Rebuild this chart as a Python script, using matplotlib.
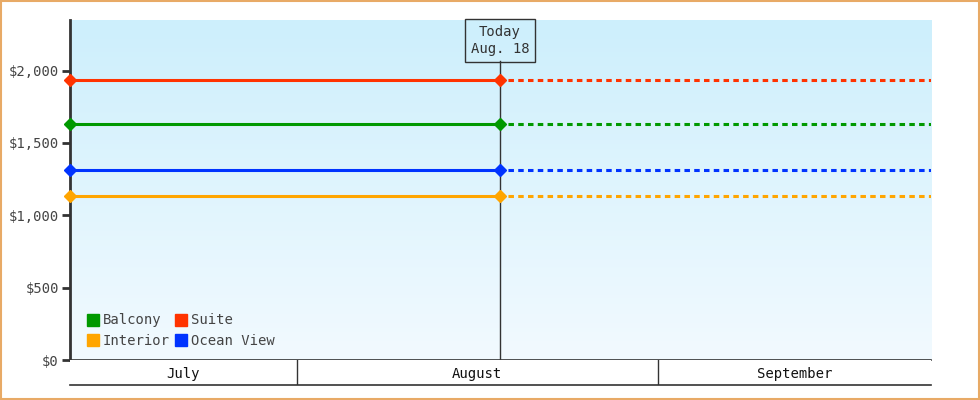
import numpy as np
import matplotlib.pyplot as plt
import matplotlib.dates as mdates
from matplotlib.ticker import FuncFormatter
from datetime import datetime

series = ["Balcony", "Suite", "Interior", "Ocean View"]
prices = [1630, 1934, 1133, 1313]
colors = ["#009900", "#ff3300", "#ffa500", "#0033ff"]

start_date = datetime(2024, 7, 12, 12)
today_date = datetime(2024, 8, 18, 11)
end_date = datetime(2024, 9, 24, 12)
months = ["July", "August", "September"]
month_edges = [start_date, datetime(2024, 8, 1), datetime(2024, 9, 1), end_date]
yticks = [0, 500, 1000, 1500, 2000]

plt.rcParams['font.family'] = ['DejaVu Sans Mono']

fig = plt.figure(figsize=(9.8, 4), dpi=100)
fig.patch.set_facecolor("white")
fig.patches.append(plt.Rectangle((0.001, 0.002), 0.998, 0.996, transform=fig.transFigure,
                                 fill=False, edgecolor="#e8aa66", linewidth=1.5))

ax = fig.add_axes([70 / 980, 40 / 400, 861 / 980, 340 / 400])
x0, xt, x1 = mdates.date2num([start_date, today_date, end_date])
ax.set_xlim(x0, x1)
ax.set_ylim(0, 2350)

# gradient background
grad = np.linspace(0, 1, 256).reshape(-1, 1)
top = np.array([0xcd, 0xef, 0xfc]) / 255
bot = np.array([0xf2, 0xfa, 0xff]) / 255
img = top * (1 - grad[..., None]) + bot * grad[..., None]
img = img.reshape(256, 1, 3)
ax.imshow(img, extent=[0, 1, 0, 1], transform=ax.transAxes, aspect="auto", zorder=0)

handles = {}
for name, p, c in zip(series, prices, colors):
    ax.plot([x0, xt], [p, p], color=c, lw=2.2, zorder=3, solid_capstyle="butt")
    ax.plot([xt, x1], [p, p], color=c, lw=2.2, ls=(0.6, (1.8, 1.4)), zorder=3)
    ax.plot([x0, xt], [p, p], ls="none", marker="D", ms=6, color=c, zorder=4, clip_on=False)
    handles[name], = ax.plot([], [], ls="none", marker="s", ms=9, color=c, label=name)

ax.axvline(xt, ymax=(360 - 61) / 340, color="#333333", lw=1, zorder=2)
ax.text(xt, 2350 - 20.5 / 0.14475, "Today\nAug. 18", ha="center", va="center", fontsize=10,
        color="#333333", linespacing=1.3, zorder=5,
        bbox=dict(boxstyle="square,pad=0.42", fc="none", ec="#333333", lw=1))

ax.set_yticks(yticks)
ax.yaxis.set_major_formatter(FuncFormatter(lambda v, _: "${:,.0f}".format(v)))
ax.tick_params(axis="y", direction="out", length=6, width=2, color="#333333",
               labelsize=10, labelcolor="#444444", pad=2)
ax.set_xticks([])
for s in ["top", "right"]:
    ax.spines[s].set_visible(False)
ax.spines["left"].set_linewidth(2)
ax.spines["left"].set_color("#333333")
ax.spines["bottom"].set_linewidth(1.2)
ax.spines["bottom"].set_color("#333333")

order = ["Balcony", "Interior", "Suite", "Ocean View"]
ax.legend([handles[n] for n in order], order, loc="lower left", bbox_to_anchor=(0.011, 0.02),
          ncol=2, frameon=False, fontsize=10, handletextpad=0.1, columnspacing=0.2,
          labelspacing=0.45, borderaxespad=0, handlelength=1.2, labelcolor="#444444")

# month band
mb = fig.add_axes([70 / 980, 15 / 400, 861 / 980, 25 / 400], sharex=ax)
mb.set_facecolor("white")
mb.set_ylim(0, 1)
edges = mdates.date2num(month_edges)
for e in edges[1:-1]:
    mb.axvline(e, color="#333333", lw=1)
for i, m in enumerate(months):
    mb.text((edges[i] + edges[i + 1]) / 2, 0.45, m, ha="center", va="center", fontsize=10,
            color="#111111")
mb.set_yticks([])
mb.tick_params(axis="x", bottom=False, labelbottom=False)
for s in ["top", "left", "right"]:
    mb.spines[s].set_visible(False)
mb.spines["bottom"].set_color("#333333")
mb.spines["bottom"].set_linewidth(1.2)

fig.savefig("out.png", dpi=100)
